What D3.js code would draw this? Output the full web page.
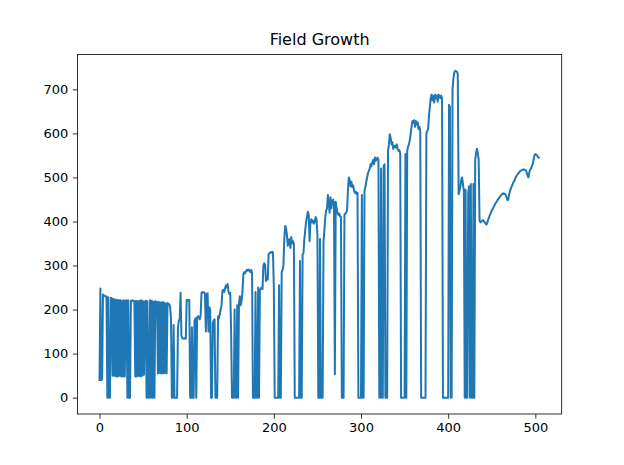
<!DOCTYPE html>
<html><head><meta charset="utf-8">
<script src="https://cdn.jsdelivr.net/npm/d3@7"></script>
<style>
body{margin:0;background:#fff;}
text{font-family:"DejaVu Sans",sans-serif;}
</style></head>
<body><div id="chart"></div>
<script>
const title = "Field Growth";
const xTicks = [0,100,200,300,400,500];
const yTicks = [0,100,200,300,400,500,600,700];
const values = [
38,248,40,42,234,232,231,229,230,0,
228,0,0,227,226,50,224,50,223,48,
222,48,222,50,221,48,220,48,221,48,
220,221,0,221,0,0,220,219,221,220,
219,48,220,48,219,50,220,48,221,50,
219,52,218,220,0,219,0,0,221,0,
220,0,218,0,219,218,217,55,218,56,
216,55,217,55,216,56,214,55,215,213,
212,205,180,0,0,165,0,0,0,0,
160,175,178,238,140,135,134,134,135,134,
222,222,220,222,0,0,160,0,0,175,
180,0,182,185,183,178,186,238,240,238,
239,236,150,235,237,150,205,200,0,0,
170,175,178,0,0,0,185,180,190,200,
210,243,245,240,248,255,250,258,240,235,
238,150,0,0,0,200,0,0,210,0,
215,230,210,220,240,280,285,282,287,290,
288,291,289,285,290,284,0,0,0,240,
0,0,250,0,245,248,250,246,300,305,
302,265,270,268,326,328,330,329,331,330,
250,0,0,0,0,0,255,0,0,285,
290,300,360,390,385,370,345,355,360,340,
365,350,355,350,0,0,0,0,0,0,
310,0,0,325,328,360,380,400,410,422,
415,355,400,405,398,402,395,400,410,405,
370,0,0,360,0,0,0,355,380,410,
425,430,460,440,420,455,430,445,450,440,
53,445,430,420,415,418,412,410,0,0,
0,415,418,420,425,470,500,495,480,490,
478,482,470,465,468,462,465,0,0,0,
0,460,0,0,470,478,490,500,510,515,
520,530,525,535,540,530,545,538,542,545,
540,0,0,520,0,0,525,530,0,0,
0,560,575,598,590,575,580,565,570,572,
568,575,565,560,562,555,0,0,0,0,
0,553,0,560,570,575,585,600,615,628,
625,630,615,628,620,625,610,615,605,0,
0,0,0,0,0,600,605,610,640,660,
680,688,675,685,670,688,680,686,672,688,
685,680,686,678,0,0,0,0,0,0,
0,665,660,0,0,700,725,738,742,741,
740,735,462,470,478,495,500,485,470,0,
472,0,0,465,480,0,485,0,0,485,
0,540,555,565,555,540,402,398,400,402,
403,400,398,395,393,398,405,410,415,420,
425,428,432,436,440,443,446,450,452,455,
458,460,462,464,462,463,460,455,448,450,
462,470,475,480,485,490,492,498,502,505,
508,510,513,515,516,517,518,518,517,516,
512,505,500,510,518,520,525,530,540,550,
553,552,550,546,545,544
];
const W = 624, H = 465;
const pl = 77.5, pr = 561.7, pt = 54.5, pb = 414;
const n = values.length - 1;
const xm = n * 0.05;
const ymax = d3.max(values), ymin = d3.min(values);
const ym = (ymax - ymin) * 0.05;
const x = d3.scaleLinear().domain([-xm, n + xm]).range([pl, pr]);
const y = d3.scaleLinear().domain([ymin - ym, ymax + ym]).range([pb, pt]);

const svg = d3.select("#chart").append("svg").attr("width", W).attr("height", H);
svg.append("rect").attr("width", W).attr("height", H).attr("fill", "#fff");

svg.append("path").datum(values)
  .attr("fill", "none").attr("stroke", "#1f77b4").attr("stroke-width", 2)
  .attr("stroke-linejoin", "round").attr("stroke-linecap", "butt")
  .attr("d", d3.line().x((d, i) => x(i)).y(d => y(d)));

const xa = svg.append("g").attr("transform", `translate(0,${pb})`)
  .call(d3.axisBottom(x).tickValues(xTicks).tickSize(4.7).tickPadding(4.5).tickFormat(d3.format("d")));
const ya = svg.append("g").attr("transform", `translate(${pl},0)`)
  .call(d3.axisLeft(y).tickValues(yTicks).tickSize(4.7).tickPadding(4.5).tickFormat(d3.format("d")));
[xa, ya].forEach(a => {
  a.select(".domain").remove();
  a.selectAll("line").attr("stroke", "#000").attr("stroke-width", 0.8);
  a.selectAll("text").attr("fill", "#000").style("font-size", "13px").style("font-family", "DejaVu Sans");
});

svg.append("rect").attr("x", pl).attr("y", pt).attr("width", pr - pl).attr("height", pb - pt)
  .attr("fill", "none").attr("stroke", "#000").attr("stroke-width", 0.8);

svg.append("text").attr("x", (pl + pr) / 2).attr("y", pt - 10)
  .attr("text-anchor", "middle").style("font-size", "16px").attr("fill", "#000").text(title);
</script></body></html>
